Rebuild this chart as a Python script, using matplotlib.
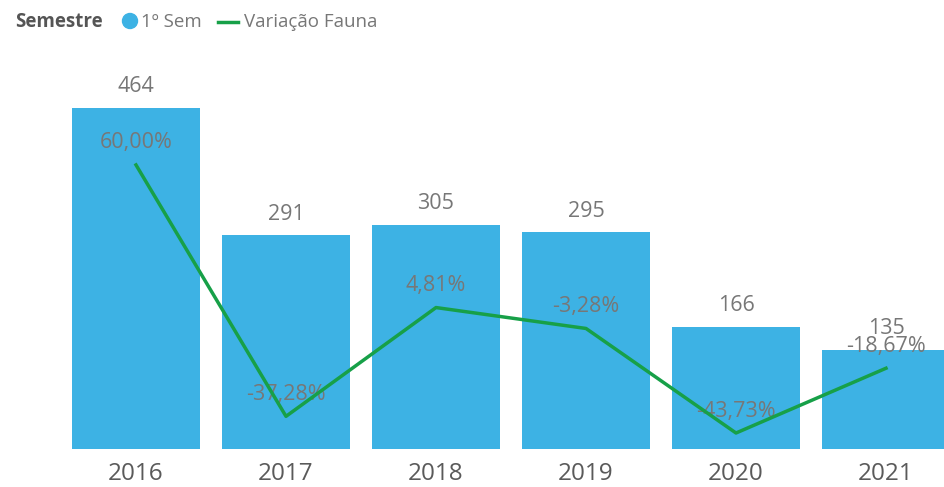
import matplotlib
matplotlib.use("Agg")
import matplotlib.pyplot as plt
from matplotlib.patches import Ellipse
from matplotlib.lines import Line2D

# data
anos = ["2016", "2017", "2018", "2019", "2020", "2021"]
sem1 = [464, 291, 305, 295, 166, 135]
variacao = [60.00, -37.28, 4.81, -3.28, -43.73, -18.67]

cor_barra = "#3DB2E4"
cor_linha = "#17A048"
cor_texto = "#777777"

plt.rcParams['font.family'] = ['Open Sans', 'DejaVu Sans']

W, H = 945, 487
fig = plt.figure(figsize=(W / 100, H / 100), dpi=100)

# axes placed in pixel terms: bottom at y=449, top at y=60, bar 0 centred at x=136
left, right = 61, 961
top, bottom = 60, 449
ax = fig.add_axes([left / W, (H - bottom) / H, (right - left) / W, (bottom - top) / H])

x = list(range(len(anos)))
ax.bar(x, sem1, width=0.853, color=cor_barra, zorder=1)
ax.set_xlim(-0.5, 5.5)
ax.set_ylim(0, (bottom - top) / 0.735)

for xi, v in zip(x, sem1):
    ax.annotate(str(v), (xi, v), xytext=(0, 21), textcoords="offset pixels",
                ha="center", va="center", fontsize=15.5, color=cor_texto)

ax.set_xticks(x)
ax.set_xticklabels(anos, fontsize=17.5, color="#5A5A5A")
ax.tick_params(axis="x", length=0, pad=9)
ax.set_yticks([])
for s in ax.spines.values():
    s.set_visible(False)

ax2 = ax.twinx()
ax2.plot(x, variacao, color=cor_linha, linewidth=2.5, zorder=3)
ax2.set_ylim(-49.92, 100.6)
ax2.set_yticks([])
for s in ax2.spines.values():
    s.set_visible(False)

for xi, v in zip(x, variacao):
    txt = f"{v:.2f}%".replace(".", ",")
    ax2.annotate(txt, (xi, v), xytext=(0, 22), textcoords="offset pixels",
                 ha="center", va="center", fontsize=15.5, color=cor_texto, zorder=2)

# legend drawn by hand, like the Power BI header
ly = 1 - 22 / H
fig.text(15 / W, ly, "Semestre", fontsize=13.5, fontweight="bold",
         color="#555555", va="center", ha="left")
fig.patches.append(Ellipse((130 / W, 1 - 21 / H), 15 / W, 15 / H,
                           transform=fig.transFigure, color=cor_barra))
fig.text(141 / W, ly, "1º Sem", fontsize=13.5, color=cor_texto,
         va="center", ha="left")
fig.lines.append(Line2D([218 / W, 238 / W], [ly, ly],
                        transform=fig.transFigure, color=cor_linha, linewidth=2.5))
fig.text(244 / W, ly, "Variação Fauna", fontsize=13.5, color=cor_texto,
         va="center", ha="left")

fig.savefig("out.png", dpi=100)
